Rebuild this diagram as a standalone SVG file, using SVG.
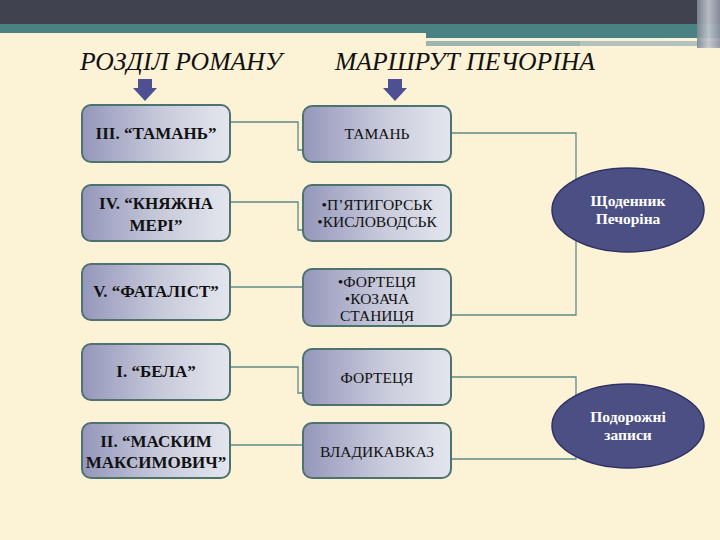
<svg xmlns="http://www.w3.org/2000/svg" width="720" height="540" viewBox="0 0 720 540">
<defs>
<linearGradient id="boxg" x1="0" y1="0" x2="1" y2="0">
<stop offset="0" stop-color="#9597bb"/>
<stop offset="0.55" stop-color="#c9cbdc"/>
<stop offset="1" stop-color="#e4e6ee"/>
</linearGradient>
<linearGradient id="edge" x1="0" y1="0" x2="1" y2="0">
<stop offset="0" stop-color="#7f8894"/>
<stop offset="0.5" stop-color="#c4c8d0"/>
<stop offset="1" stop-color="#8b93a0"/>
</linearGradient>
<style>
.box{fill:url(#boxg);stroke:#4d7270;stroke-width:2}
.lt{font-weight:bold;font-size:17px;fill:#111;text-anchor:middle}
.rt{font-size:15.5px;fill:#111;text-anchor:middle}
.el{fill:#4b4f84;stroke:#2f3263;stroke-width:1.5}
.et{font-weight:bold;font-size:15.5px;fill:#ffffff;text-anchor:middle}
.ttl{font-style:italic;font-size:25px;fill:#111;text-anchor:middle}
.cn{fill:none;stroke:#5e8c86;stroke-width:1.3}
.arr{fill:#4e5092}
</style>
</defs>
<rect width="720" height="540" fill="#fcf2d6"/>
<!-- header -->
<rect x="0" y="0" width="720" height="24" fill="#41424f"/>
<rect x="0" y="24" width="720" height="9" fill="#4a8284"/>
<rect x="426" y="24" width="294" height="14" fill="#4a8284"/>
<rect x="426" y="38" width="241" height="3" fill="#f6f1dc"/>
<rect x="426" y="41" width="294" height="5" fill="#9db4b0"/>
<rect x="580" y="41" width="140" height="5" fill="#b3c2bf"/>
<rect x="697" y="0" width="23" height="48" fill="url(#edge)" opacity="0.9"/>
<g font-family="Liberation Serif, DejaVu Serif, serif">
<!-- titles -->
<text class="ttl" x="181" y="70" textLength="202" lengthAdjust="spacingAndGlyphs">РОЗДІЛ РОМАНУ</text>
<text class="ttl" x="465" y="70" textLength="260" lengthAdjust="spacingAndGlyphs">МАРШРУТ ПЕЧОРІНА</text>
<polygon class="arr" points="138,79 152,79 152,88 157,88 145,101 133,88 138,88"/>
<polygon class="arr" points="388,79 402,79 402,88 407,88 395,101 383,88 388,88"/>
<!-- connectors -->
<g id="connectors">
<polyline class="cn" points="230,122 298,122 298,150 303,150"/>
<polyline class="cn" points="230,202 298,202 298,230 303,230"/>
<polyline class="cn" points="230,287 303,287"/>
<polyline class="cn" points="230,367 298,367 298,393 303,393"/>
<polyline class="cn" points="230,445 303,445"/>
<polyline class="cn" points="451,133 576,133 576,315 451,315"/>
<polyline class="cn" points="451,377 576,377 576,459 451,459"/>
</g>
<!-- left nodes -->
<g id="n-taman-ch"><rect class="box" x="82" y="105" width="148" height="57" rx="9"/><text class="lt" x="156" y="139">III. “ТАМАНЬ”</text></g>
<g id="n-knyazhna"><rect class="box" x="82" y="185" width="148" height="56" rx="9"/><text class="lt" x="156" y="209">IV. “КНЯЖНА</text><text class="lt" x="156" y="231">МЕРІ”</text></g>
<g id="n-fatalist"><rect class="box" x="82" y="264" width="148" height="56" rx="9"/><text class="lt" x="156" y="297">V. “ФАТАЛІСТ”</text></g>
<g id="n-bela"><rect class="box" x="82" y="344" width="148" height="56" rx="9"/><text class="lt" x="156" y="377">I. “БЕЛА”</text></g>
<g id="n-maksym"><rect class="box" x="82" y="423" width="148" height="55" rx="9"/><text class="lt" x="156" y="447">II. “МАСКИМ</text><text class="lt" x="156" y="468">МАКСИМОВИЧ”</text></g>
<!-- right nodes -->
<g id="r-taman"><rect class="box" x="303" y="106" width="148" height="56" rx="9"/><text class="rt" x="377" y="139">ТАМАНЬ</text></g>
<g id="r-pyatigorsk"><rect class="box" x="303" y="185" width="148" height="56" rx="9"/><text class="rt" x="377" y="210">•П’ЯТИГОРСЬК</text><text class="rt" x="377" y="227">•КИСЛОВОДСЬК</text></g>
<g id="r-fortetsia2"><rect class="box" x="303" y="269" width="148" height="57" rx="9"/><text class="rt" x="377" y="287">•ФОРТЕЦЯ</text><text class="rt" x="377" y="304">•КОЗАЧА</text><text class="rt" x="377" y="321">СТАНИЦЯ</text></g>
<g id="r-fortetsia"><rect class="box" x="303" y="349" width="148" height="56" rx="9"/><text class="rt" x="377" y="383">ФОРТЕЦЯ</text></g>
<g id="r-vladikavkaz"><rect class="box" x="303" y="423" width="148" height="55" rx="9"/><text class="rt" x="377" y="457">ВЛАДИКАВКАЗ</text></g>
<!-- ellipses -->
<g id="e-diary"><ellipse class="el" cx="628" cy="210" rx="76" ry="42"/><text class="et" x="628" y="206">Щоденник</text><text class="et" x="628" y="224">Печоріна</text></g>
<g id="e-travel"><ellipse class="el" cx="628" cy="426" rx="76" ry="42"/><text class="et" x="628" y="422">Подорожні</text><text class="et" x="628" y="440">записи</text></g>
</g>
</svg>
